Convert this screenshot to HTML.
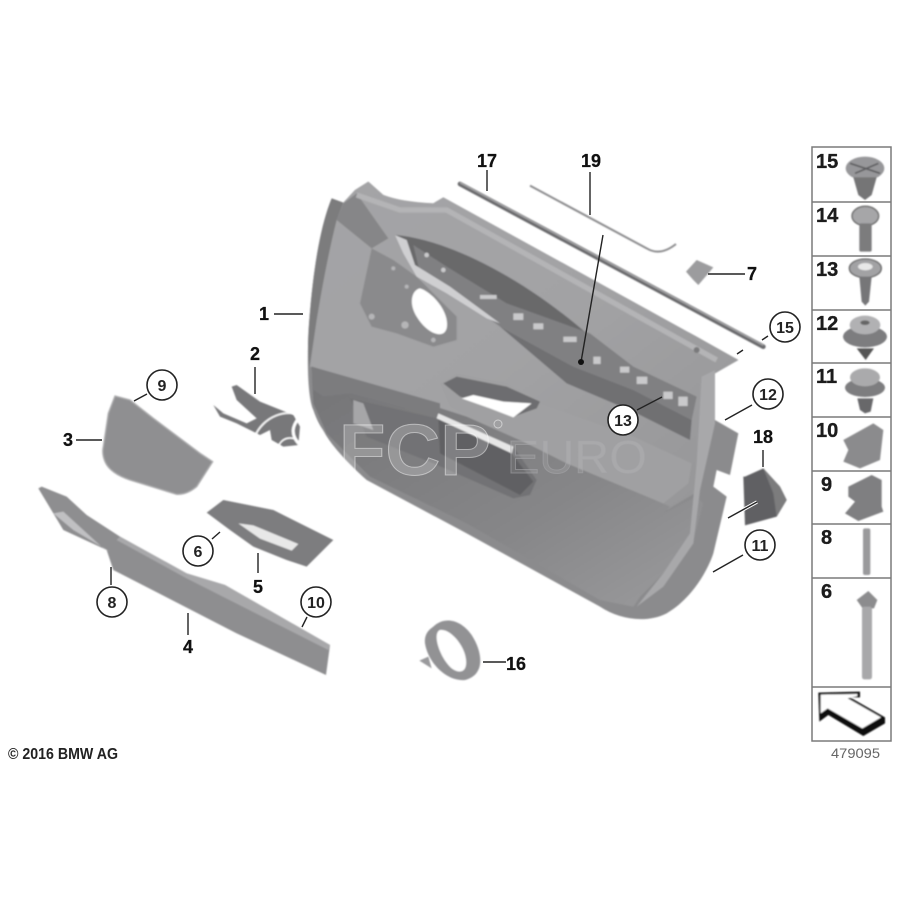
<!DOCTYPE html>
<html><head><meta charset="utf-8"><style>
html,body{margin:0;padding:0;background:#fff}
svg{display:block}
text{font-family:"Liberation Sans",sans-serif}
.n{font-weight:bold;font-size:18px;fill:#111;text-anchor:middle;stroke:#111;stroke-width:.25}
.c{font-weight:bold;font-size:16px;fill:#222;text-anchor:middle}
.t{font-weight:bold;font-size:20px;fill:#1c1c1c;stroke:#1c1c1c;stroke-width:.35}
</style></head><body>
<svg width="900" height="900" viewBox="0 0 900 900" xmlns="http://www.w3.org/2000/svg">
<defs>
<filter id="b" x="-5%" y="-5%" width="110%" height="110%"><feGaussianBlur stdDeviation="0.8"/></filter>
<linearGradient id="up" x1="0" y1="0" x2="1" y2="1"><stop offset="0" stop-color="#a4a4a6"/><stop offset=".5" stop-color="#a2a2a4"/><stop offset="1" stop-color="#959597"/></linearGradient>
<linearGradient id="low" x1="0" y1="0" x2="1" y2="1"><stop offset="0" stop-color="#747476"/><stop offset=".6" stop-color="#868688"/><stop offset="1" stop-color="#9b9b9d"/></linearGradient>
</defs>
<rect width="900" height="900" fill="#fff"/>
<g filter="url(#b)">
<!-- door -->
<g transform="translate(300 170) scale(.33333)">
<path d="M1245 610 L1315 570 L1190 500 L430 82 L400 100 Q300 95 250 75 L205 35 L165 60 L130 98 L95 85 C60 170 40 300 28 450 C20 560 22 680 40 720 C60 780 100 840 200 930 L500 1090 L900 1310 C960 1350 1040 1360 1100 1330 C1170 1290 1220 1210 1240 1150 L1280 980 L1240 950 L1250 900 L1290 915 L1315 790 L1245 750Z" fill="#8b8b8d"/>
<path d="M95 85 C60 170 40 300 28 450 C22 520 24 560 28 590 L50 450 C70 330 90 230 110 150 L130 98Z" fill="#7b7b7d"/>
<path d="M110 150 L130 98 L165 60 L205 35 L250 75 Q320 100 400 100 L430 82 L1315 570 L1245 610 L1245 750 L1200 960 L1100 1020 L500 770 L30 590 L50 450 C70 330 90 230 110 150Z" fill="url(#up)"/>
<path d="M130 100 L170 70 L265 205 L215 235 L110 150Z" fill="#868688"/>
<path d="M170 75 L300 120 L440 120 L1250 570" stroke="#b4b4b6" stroke-width="16" fill="none"/>
<!-- speaker pocket -->
<path d="M215 235 L280 270 L350 320 L470 440 L470 510 L400 530 L290 490 L215 470 L180 400Z" fill="#8a8a8c"/>
<g fill="#b5b5b7"><circle cx="280" cy="295" r="6"/><circle cx="320" cy="350" r="6"/><circle cx="215" cy="440" r="9"/><circle cx="315" cy="465" r="11"/><circle cx="400" cy="510" r="7"/></g>
<path d="M360 355 C395 365 450 425 440 475 C430 510 380 490 350 440 C325 400 335 360 360 355Z" fill="#fff"/>
<!-- window strip -->
<path d="M285 195 C420 205 640 300 860 490 L600 420 L440 350 L340 300Z" fill="#69696b"/>
<path d="M340 225 L440 290 L620 400 L870 490 L1000 590 L1190 680 L1175 750 L1000 660 L820 590 L600 470 L450 360 L360 310Z" fill="#808082"/>
<path d="M285 195 L320 210 L345 285 L450 350 L600 460 L560 445 L440 370 L350 320 L310 250Z" fill="#cfcfd1"/>
<path d="M600 470 L820 590 L1000 660 L1175 750 L1170 810 L1000 725 L800 640Z" fill="#707072"/>
<g fill="#c9c9cb"><rect x="540" y="375" width="50" height="12"/><rect x="640" y="430" width="30" height="20"/><rect x="700" y="460" width="30" height="18"/><rect x="790" y="500" width="40" height="16"/><rect x="880" y="560" width="22" height="22"/><rect x="960" y="590" width="28" height="18"/><rect x="1010" y="620" width="32" height="22"/><rect x="1090" y="665" width="28" height="22"/><rect x="1135" y="680" width="28" height="28"/><circle cx="380" cy="255" r="7"/><circle cx="430" cy="300" r="7"/></g>
<!-- armrest / lower -->
<path d="M35 590 L500 740 L1110 1010 L1090 1030 L1190 980 L1210 1000 L1180 1110 L1090 1210 L1020 1280 L1000 1310 L900 1290 L500 1060 L210 920 L80 790 L40 700Z" fill="url(#low)"/>
<path d="M35 590 L420 700 L420 740 L150 670 L70 680 L40 660Z" fill="#7c7c7e"/>
<path d="M420 640 L470 610 L620 640 L720 700 L1000 800 L1175 880 L1165 940 L1090 1000 L800 880 L640 800 L450 710Z" fill="#a0a0a2"/>
<path d="M430 640 L470 620 L620 650 L720 695 L710 715 L640 740 L480 680Z" fill="#6d6d6f"/>
<path d="M485 685 L520 675 L610 695 L695 700 L640 742 L570 715Z" fill="#fff"/>
<path d="M150 685 L410 745 L640 830 L710 930 L690 975 L640 985 L400 880 L200 800Z" fill="#727274"/>
<path d="M160 690 L190 700 L220 780 L160 760Z" fill="#a6a6a8"/>
<path d="M415 745 L635 850 L700 935 L660 975 L420 850Z" fill="#616163"/>
<path d="M415 730 L640 830 L635 850 L410 745Z" fill="#e6e6e6"/>
<path d="M1205 620 L1245 600 L1245 760 L1200 960 L1180 1120 L1090 1250 L1010 1310 L1090 1210 L1170 1090 L1190 880Z" fill="#a8a8aa"/>
<circle cx="1190" cy="540" r="9" fill="#7a7a7c"/>
<!-- strips -->
<path d="M480 42 L1390 530" stroke="#6b6b6d" stroke-width="14" stroke-linecap="round" fill="none"/>
<path d="M480 38 L1390 526" stroke="#a6a6a8" stroke-width="4" fill="none"/>
<path d="M690 47 L1040 235 Q1080 260 1128 222" stroke="#8c8c8e" stroke-width="6" fill="none"/>
<path d="M1158 305 L1190 270 L1240 292 L1225 310 L1195 345 L1180 330Z" fill="#9c9c9e"/>
<path d="M1335 920 L1390 895 L1440 950 L1460 990 L1430 1040 L1335 1066 L1330 920Z" fill="#616163"/>
<path d="M1390 895 L1440 950 L1460 990 L1430 1040 L1420 970Z" fill="#7b7b7d"/>
</g>
<!-- 16 -->
<g transform="translate(390 600) scale(.33333)">
<path d="M88 182 L115 170 L125 205Z" fill="#9a9a9c"/>
<path d="M130 80 C160 50 210 55 245 105 C280 160 285 225 225 240 C170 245 115 190 105 130 C102 105 115 90 130 80Z" fill="#929294"/>
<path d="M150 90 C185 85 235 150 228 195 C225 218 205 220 185 205 C150 175 125 100 150 90Z" fill="#fff"/>
</g>
<!-- left parts -->
<g transform="translate(20 340) scale(.33333)">
<path d="M285 168 L330 180 L400 235 L540 340 L578 365 L530 440 Q500 465 470 463 L330 420 Q270 400 255 365 Q245 340 250 320 L265 220Z" fill="#8f8f91" stroke="#adadaf" stroke-width="4"/>
<path d="M635 140 L650 135 L720 185 L820 225 L840 260 L835 315 L790 320 L755 300 L750 270 L720 285 L650 250 L600 230 L580 195 L610 220 L680 250 L710 235 L650 180Z" fill="#78787a"/>
<path d="M55 445 L65 440 L140 470 L200 525 L300 590 L500 700 L615 735 L930 915 L918 1005 L650 880 L280 690 L260 630 L130 570 L100 520Z" fill="#8e8e90"/>
<path d="M100 520 L130 515 L250 625 L270 635 L160 570Z" fill="#c0c0c2"/>
<path d="M300 590 L500 700 L615 735 L930 915 L925 930 L500 715 L290 600Z" fill="#a8a8aa"/>
<path d="M560 518 L610 480 L760 510 L940 600 L860 680 L800 660 L700 620 L630 570Z" fill="#7d7d7f"/>
<path d="M655 550 L700 556 L835 612 L815 632 L720 596Z" fill="#e8e8e8"/>
</g>
<!-- right-column parts -->
<g transform="translate(800 140) scale(.33333)">
<ellipse cx="195" cy="85" rx="58" ry="35" fill="#97979a"/>
<path d="M160 112 L230 112 L215 165 L195 180 L175 165Z" fill="#747476"/>
<path d="M150 70 L240 100 M165 100 L235 70" stroke="#5c5c5e" stroke-width="5"/>
<ellipse cx="196" cy="228" rx="40" ry="29" fill="#a6a6a8" stroke="#666" stroke-width="4"/>
<rect x="178" y="250" width="37" height="85" rx="5" fill="#7b7b7d"/>
<ellipse cx="196" cy="385" rx="48" ry="28" fill="#a2a2a4" stroke="#666" stroke-width="4"/>
<ellipse cx="196" cy="380" rx="22" ry="11" fill="#e8e8e8"/>
<path d="M178 410 L215 410 L207 485 L196 497 L185 485Z" fill="#767678"/>
<ellipse cx="195" cy="590" rx="66" ry="32" fill="#7d7d7f"/>
<ellipse cx="195" cy="555" rx="46" ry="28" fill="#b1b1b3"/>
<ellipse cx="195" cy="548" rx="14" ry="7" fill="#666"/>
<path d="M170 625 L222 625 L197 660Z" fill="#555"/>
<ellipse cx="195" cy="743" rx="60" ry="28" fill="#7d7d7f"/>
<ellipse cx="195" cy="712" rx="45" ry="27" fill="#aaaaac"/>
<path d="M172 775 L220 775 L212 815 L195 820 L180 810Z" fill="#68686a"/>
<path d="M130 900 L220 850 L250 870 L240 960 L180 985 L130 965 L145 930Z" fill="#8b8b8d"/>
</g>
<g transform="translate(800 460) scale(.33333)">
<path d="M145 80 L215 45 L245 60 L245 140 L250 155 L175 183 L135 160 L165 125 L145 110Z" fill="#7f7f81"/>
<rect x="189" y="205" width="22" height="140" rx="6" fill="#9a9a9c"/>
<path d="M170 420 L205 393 L232 420 L222 445 L188 445Z" fill="#8c8c8e"/>
<rect x="186" y="440" width="30" height="218" rx="7" fill="#a8a8aa"/>
<path d="M55 698 L180 695 L180 712 L150 712 L255 772 L255 790 L190 828 L85 765 L58 785Z" fill="#111"/>
<path d="M62 704 L172 702 L172 708 L143 715 L243 772 L187 805 L83 745 L62 760Z" fill="#fff"/>
</g>
<!-- watermark logo -->
<g fill="none" stroke="#fff">
<circle cx="290" cy="451" r="38" stroke-width="2" opacity=".9"/>
<path d="M303 414 Q285 430 300 445 Q315 460 297 480" stroke-width="3"/>
<circle cx="290" cy="450" r="12" stroke-width="1.5"/>
</g>
</g>
<text x="339" y="475" font-size="72" font-weight="bold" textLength="152" lengthAdjust="spacingAndGlyphs" fill="#fff" fill-opacity=".2" stroke="#fff" stroke-opacity=".45">FCP</text>
<text x="507" y="473" font-size="46" textLength="140" lengthAdjust="spacingAndGlyphs" fill="#fff" fill-opacity=".1" stroke="#a4a4a6" stroke-opacity=".6">EURO</text>
<circle cx="498" cy="424" r="4" fill="none" stroke="#fff" stroke-opacity=".5"/>
<!-- table -->
<g fill="none" stroke="#7a7a7a" stroke-width="1.5">
<rect x="812" y="147" width="79" height="594"/>
<path d="M812 202H891M812 256H891M812 310H891M812 363H891M812 417H891M812 471H891M812 524H891M812 578H891M812 687H891"/>
</g>
<text class="t" x="816" y="168">15</text>
<text class="t" x="816" y="222">14</text>
<text class="t" x="816" y="276">13</text>
<text class="t" x="816" y="330">12</text>
<text class="t" x="816" y="383">11</text>
<text class="t" x="816" y="437">10</text>
<text class="t" x="821" y="491">9</text>
<text class="t" x="821" y="544">8</text>
<text class="t" x="821" y="598">6</text>
<text x="831" y="758" font-size="14" fill="#666" textLength="49" lengthAdjust="spacingAndGlyphs">479095</text>
<text x="8" y="759" font-size="15.5" font-weight="bold" fill="#222" textLength="110" lengthAdjust="spacingAndGlyphs">© 2016 BMW AG</text>
<!-- leaders -->
<g stroke="#222" stroke-width="1.4" fill="none">
<path d="M274 314H303M255 367V394M76 440H102M188 613V635M258 553V573M220 532L212 539M111 567V585M147 394L134 401M307 617L302 627"/>
<path d="M708 274H745M768 336L762 340M743 350L737 354M752 405L725 420M637 410L662 397M763 450V467M743 555L713 572M487 170V191M590 172V215M603 235L581 362M483 662H506"/>
<path d="M757 502L728 518" stroke="#fff" stroke-width="3.5"/>
<path d="M757 502L728 518"/>
</g>
<circle cx="581" cy="362" r="3" fill="#111"/>
<g fill="#fff" stroke="#222" stroke-width="1.6">
<circle cx="162" cy="385" r="15"/><circle cx="198" cy="551" r="15"/><circle cx="112" cy="602" r="15"/><circle cx="316" cy="602" r="15"/><circle cx="785" cy="327" r="15"/><circle cx="768" cy="394" r="15"/><circle cx="623" cy="420" r="15"/><circle cx="760" cy="545" r="15"/>
</g>
<text class="c" x="162" y="391">9</text><text class="c" x="198" y="557">6</text><text class="c" x="112" y="608">8</text><text class="c" x="316" y="608">10</text><text class="c" x="785" y="333">15</text><text class="c" x="768" y="400">12</text><text class="c" x="623" y="426">13</text><text class="c" x="760" y="551">11</text>
<text class="n" x="264" y="320">1</text><text class="n" x="255" y="360">2</text><text class="n" x="68" y="446">3</text><text class="n" x="188" y="653">4</text><text class="n" x="258" y="593">5</text><text class="n" x="752" y="280">7</text><text class="n" x="487" y="167">17</text><text class="n" x="591" y="167">19</text><text class="n" x="763" y="443">18</text><text class="n" x="516" y="670">16</text>
</svg>
</body></html>
